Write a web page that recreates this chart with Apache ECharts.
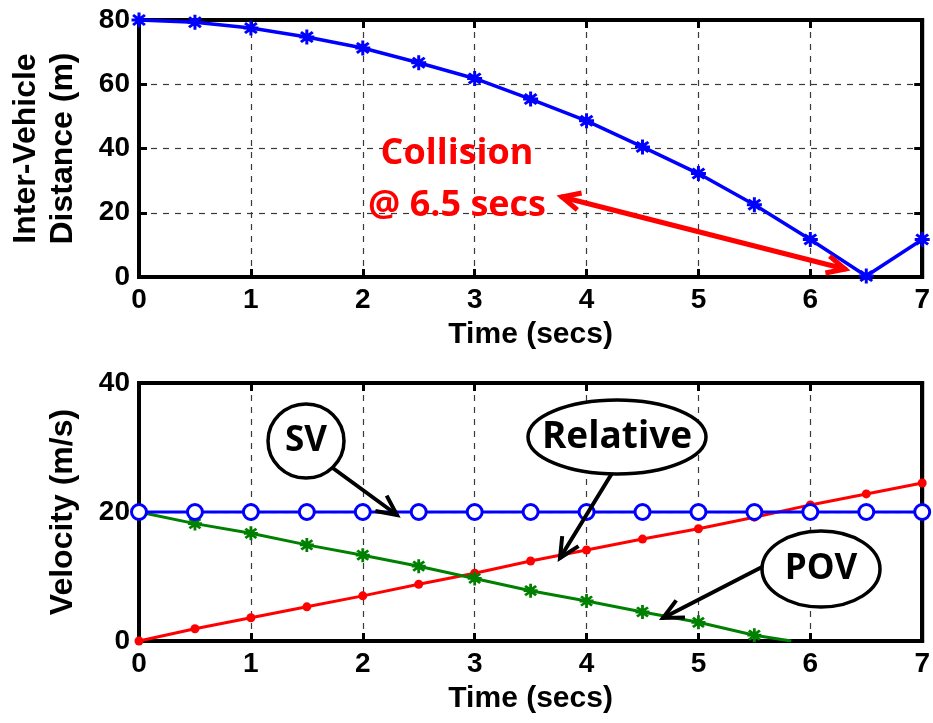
<!DOCTYPE html>
<html>
<head>
<meta charset="utf-8">
<script src="https://cdn.jsdelivr.net/npm/echarts@6/dist/echarts.min.js"></script>
<style>
html,body{margin:0;padding:0;background:#fff;}
#chart{width:933px;height:723px;}
</style>
</head>
<body>
<div id="chart"></div>
<script>
// ---- data ----
const time = [0, 0.5, 1, 1.5, 2, 2.5, 3, 3.5, 4, 4.5, 5, 5.5, 6, 6.5, 7];
const distance = [80, 79.3, 77.5, 74.7, 71.3, 66.7, 61.8, 55.4, 48.6, 40.5, 32.2, 22.5, 11.7, 0.3, 11.7];
const svVelocity = [20, 20, 20, 20, 20, 20, 20, 20, 20, 20, 20, 20, 20, 20, 20];
const relVelocity = [0, 1.9, 3.6, 5.3, 7.0, 8.8, 10.5, 12.4, 14.1, 15.8, 17.4, 19.2, 21.1, 22.8, 24.5];
const povTime = [0, 0.5, 1, 1.5, 2, 2.5, 3, 3.5, 4, 4.5, 5, 5.5, 5.83];
const povVelocity = [20, 18.2, 16.7, 14.9, 13.3, 11.6, 9.7, 7.8, 6.2, 4.5, 2.9, 0.9, 0];
const xTicks = [0, 1, 2, 3, 4, 5, 6, 7];

const pair = (xs, ys) => xs.map((x, i) => [x, ys[i]]);
const FONT = 'Liberation Sans';
const ANN = 'Open Sans';
const starPath = 'path://M4,0 L6,0 L6,2.6 L8.3,1 L9.6,2.4 L7.4,4 L10,4 L10,6 L7.4,6 L9.6,7.6 L8.3,9 L6,7.4 L6,10 L4,10 L4,7.4 L1.7,9 L0.4,7.6 L2.6,6 L0,6 L0,4 L2.6,4 L0.4,2.4 L1.7,1 L4,2.6 Z';

function mkX(grid, pos, labels) {
  return {
    type: 'value', gridIndex: grid, position: pos, min: 0, max: 7, interval: 1,
    name: labels ? 'Time (secs)' : '', nameLocation: 'middle', nameGap: 43,
    nameTextStyle: {fontFamily: FONT, fontWeight: 'bold', fontSize: 30, color: '#000'},
    axisLine: {show: true, onZero: false, lineStyle: {color: '#000', width: 4}},
    axisTick: {show: true, inside: true, length: 8, lineStyle: {color: '#000', width: 3}},
    axisLabel: {show: labels, margin: 9, fontFamily: FONT, fontWeight: 'bold', fontSize: 28, color: '#000',
      formatter: v => xTicks.includes(v) ? String(v) : ''},
    splitLine: {show: labels, lineStyle: {color: '#3a3a3a', width: 1.2, type: [6, 6]}}
  };
}
function mkY(grid, pos, max, name, labels) {
  return {
    type: 'value', gridIndex: grid, position: pos, min: 0, max: max, interval: 20,
    name: labels ? name : '', nameLocation: 'middle', nameGap: 57, nameRotate: 90,
    nameTextStyle: {fontFamily: FONT, fontWeight: 'bold', fontSize: 32, color: '#000', lineHeight: 37},
    axisLine: {show: true, onZero: false, lineStyle: {color: '#000', width: 4}},
    axisTick: {show: true, inside: true, length: 8, lineStyle: {color: '#000', width: 3}},
    axisLabel: {show: labels, margin: 9, fontFamily: FONT, fontWeight: 'bold', fontSize: 28, color: '#000'},
    splitLine: {show: labels, lineStyle: {color: '#3a3a3a', width: 1.2, type: [6, 6]}}
  };
}

const chart = echarts.init(document.getElementById('chart'), null, {renderer: 'canvas'});

function arrow(x1, y1, x2, y2, color, w, head, both) {
  const els = [];
  els.push({type: 'line', shape: {x1, y1, x2, y2}, style: {stroke: color, lineWidth: w, lineCap: 'round'}, z: 100});
  const addHead = (tx, ty, fx, fy) => {
    const a = Math.atan2(ty - fy, tx - fx);
    const s = 0.45;
    const p1 = [tx - head * Math.cos(a - s), ty - head * Math.sin(a - s)];
    const p2 = [tx - head * Math.cos(a + s), ty - head * Math.sin(a + s)];
    els.push({type: 'polyline', shape: {points: [p1, [tx, ty], p2]}, style: {stroke: color, lineWidth: w, fill: null, lineJoin: 'miter', lineCap: 'butt'}, z: 100});
  };
  addHead(x2, y2, x1, y1);
  if (both) addHead(x1, y1, x2, y2);
  return els;
}
function bubble(cx, cy, rx, ry, text, fs) {
  return [
    {type: 'ellipse', shape: {cx, cy, rx, ry}, style: {fill: '#fff', stroke: '#000', lineWidth: 3.5}, z: 101},
    {type: 'text', x: cx, y: cy, style: {text, fill: '#000', font: 'bold ' + fs + 'px "' + ANN + '"', align: 'center', verticalAlign: 'middle'}, z: 102}
  ];
}

const graphics = [].concat(
  arrow(562, 197, 845, 269, '#ff0000', 5, 20, true),
  [
    {type: 'text', x: 457, y: 154, style: {text: 'Collision', fill: '#ff0000', font: 'bold 36px "' + ANN + '"', align: 'center', verticalAlign: 'middle'}, z: 102},
    {type: 'text', x: 457, y: 206, style: {text: '@ 6.5 secs', fill: '#ff0000', font: 'bold 36px "' + ANN + '"', align: 'center', verticalAlign: 'middle'}, z: 102}
  ],
  arrow(330, 466, 397, 515, '#000', 4, 22, false),
  arrow(614, 470, 560, 558, '#000', 4, 22, false),
  arrow(762, 567, 663, 618, '#000', 4, 22, false),
  bubble(306, 441, 38, 37, 'SV', 35),
  bubble(617, 437, 89, 37, 'Relative', 37),
  bubble(821, 569, 59, 38, 'POV', 35)
);

const option = {
  animation: false,
  backgroundColor: '#fff',
  grid: [
    {left: 139, right: 8, top: 20, height: 257, show: true, borderColor: '#000', borderWidth: 4, backgroundColor: 'transparent'},
    {left: 139, right: 8, top: 383, height: 258, show: true, borderColor: '#000', borderWidth: 4, backgroundColor: 'transparent'}
  ],
  xAxis: [mkX(0, 'bottom', true), mkX(0, 'top', false), mkX(1, 'bottom', true), mkX(1, 'top', false)],
  yAxis: [
    mkY(0, 'left', 80, 'Inter-Vehicle\nDistance (m)', true), mkY(0, 'right', 80, '', false),
    mkY(1, 'left', 40, 'Velocity (m/s)', true), mkY(1, 'right', 40, '', false)
  ],
  series: [
    {type: 'line', xAxisIndex: 0, yAxisIndex: 0, data: pair(time, distance),
      lineStyle: {color: '#0000ff', width: 3.5}, itemStyle: {color: '#0000ff'},
      symbol: starPath, symbolSize: 15, showAllSymbol: true},
    {type: 'line', xAxisIndex: 2, yAxisIndex: 2, data: pair(time, relVelocity),
      lineStyle: {color: '#ff0000', width: 3}, itemStyle: {color: '#ff0000'},
      symbol: 'circle', symbolSize: 9, showAllSymbol: true},
    {type: 'line', xAxisIndex: 2, yAxisIndex: 2,
      data: pair(povTime, povVelocity).map((p, i) => i === povTime.length - 1 ? {value: p, symbol: 'none'} : p),
      lineStyle: {color: '#008000', width: 3}, itemStyle: {color: '#008000'},
      symbol: starPath, symbolSize: 14, showAllSymbol: true},
    {type: 'line', xAxisIndex: 2, yAxisIndex: 2, data: pair(time, svVelocity), clip: false,
      lineStyle: {color: '#0000ff', width: 3}, itemStyle: {color: '#fff', borderColor: '#0000ff', borderWidth: 3},
      symbol: 'circle', symbolSize: 15, showAllSymbol: true}
  ],
  graphic: graphics
};
chart.setOption(option);
</script>
</body>
</html>
